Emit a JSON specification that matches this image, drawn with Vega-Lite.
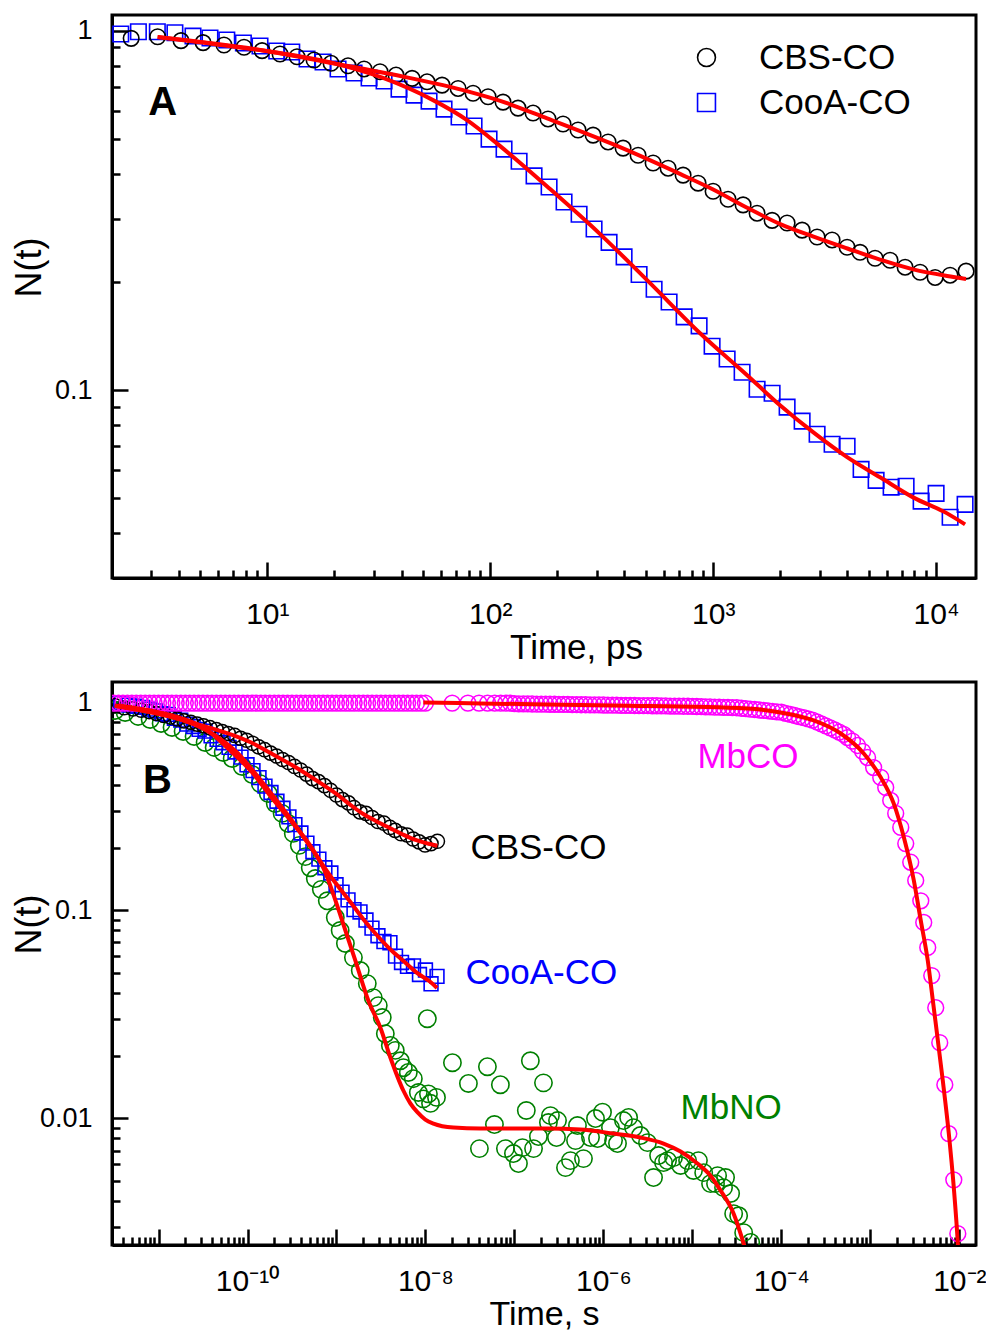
{
  "$schema": "https://vega.github.io/schema/vega-lite/v6.json",
  "background": "white",
  "padding": {"left": 9, "top": 13, "right": 5, "bottom": 2},
  "bounds": "flush",
  "spacing": 104,
  "resolve": {"scale": {"x": "independent", "y": "independent", "color": "independent", "shape": "independent"}},
  "config": {
    "view": {"stroke": "#000000", "strokeWidth": 3},
    "font": "Liberation Sans",
    "axis": {"grid": false, "domainColor": "#000000", "domainWidth": 3, "tickColor": "#000000", "tickWidth": 2.5, "labelColor": "#000000", "titleColor": "#000000", "labelFont": "Liberation Sans", "titleFont": "Liberation Sans", "titleFontWeight": "normal", "labelOverlap": false, "labelFlush": false}
  },
  "datasets": {
    "a_points": [
      {"s":"CooA-CO","t":2.2,"v":0.981},{"s":"CooA-CO","t":2.64,"v":0.995},{"s":"CooA-CO","t":3.21,"v":0.995},{"s":"CooA-CO","t":3.85,"v":0.989},{"s":"CooA-CO","t":4.64,"v":0.968},{"s":"CooA-CO","t":5.53,"v":0.956},{"s":"CooA-CO","t":6.58,"v":0.944},{"s":"CooA-CO","t":7.81,"v":0.926},{"s":"CooA-CO","t":9.27,"v":0.908},{"s":"CooA-CO","t":11.02,"v":0.88},{"s":"CooA-CO","t":12.87,"v":0.874},{"s":"CooA-CO","t":15.07,"v":0.836},{"s":"CooA-CO","t":17.78,"v":0.82},{"s":"CooA-CO","t":20.76,"v":0.784},{"s":"CooA-CO","t":24.49,"v":0.764},{"s":"CooA-CO","t":28.6,"v":0.74},{"s":"CooA-CO","t":33.39,"v":0.726},{"s":"CooA-CO","t":38.97,"v":0.689},{"s":"CooA-CO","t":45.51,"v":0.663},{"s":"CooA-CO","t":53.14,"v":0.638},{"s":"CooA-CO","t":62.04,"v":0.606},{"s":"CooA-CO","t":72.44,"v":0.576},{"s":"CooA-CO","t":84.59,"v":0.544},{"s":"CooA-CO","t":98.76,"v":0.5},{"s":"CooA-CO","t":115.3,"v":0.469},{"s":"CooA-CO","t":134.7,"v":0.434},{"s":"CooA-CO","t":157.2,"v":0.395},{"s":"CooA-CO","t":183.6,"v":0.368},{"s":"CooA-CO","t":214.3,"v":0.334},{"s":"CooA-CO","t":250.3,"v":0.309},{"s":"CooA-CO","t":292.2,"v":0.281},{"s":"CooA-CO","t":341.2,"v":0.258},{"s":"CooA-CO","t":398.4,"v":0.235},{"s":"CooA-CO","t":465.2,"v":0.21},{"s":"CooA-CO","t":543.2,"v":0.191},{"s":"CooA-CO","t":634.2,"v":0.176},{"s":"CooA-CO","t":740.6,"v":0.16},{"s":"CooA-CO","t":864.7,"v":0.151},{"s":"CooA-CO","t":988.8,"v":0.1326},{"s":"CooA-CO","t":1155,"v":0.1221},{"s":"CooA-CO","t":1348,"v":0.1122},{"s":"CooA-CO","t":1574,"v":0.1006},{"s":"CooA-CO","t":1838,"v":0.0981},{"s":"CooA-CO","t":2146,"v":0.0897},{"s":"CooA-CO","t":2506,"v":0.082},{"s":"CooA-CO","t":2925,"v":0.0754},{"s":"CooA-CO","t":3415,"v":0.0707},{"s":"CooA-CO","t":3988,"v":0.0698},{"s":"CooA-CO","t":4608,"v":0.0602},{"s":"CooA-CO","t":5381,"v":0.0561},{"s":"CooA-CO","t":6283,"v":0.0537},{"s":"CooA-CO","t":7335,"v":0.054},{"s":"CooA-CO","t":8565,"v":0.0491},{"s":"CooA-CO","t":10000,"v":0.0516},{"s":"CooA-CO","t":11556,"v":0.0443},{"s":"CooA-CO","t":13490,"v":0.0481},
      {"s":"CBS-CO","t":2.45,"v":0.954},{"s":"CBS-CO","t":3.22,"v":0.964},{"s":"CBS-CO","t":4.1,"v":0.94},{"s":"CBS-CO","t":5.15,"v":0.928},{"s":"CBS-CO","t":6.39,"v":0.914},{"s":"CBS-CO","t":7.86,"v":0.901},{"s":"CBS-CO","t":9.47,"v":0.882},{"s":"CBS-CO","t":11.4,"v":0.863},{"s":"CBS-CO","t":13.59,"v":0.848},{"s":"CBS-CO","t":16.2,"v":0.83},{"s":"CBS-CO","t":19.31,"v":0.813},{"s":"CBS-CO","t":23.01,"v":0.8},{"s":"CBS-CO","t":27.16,"v":0.784},{"s":"CBS-CO","t":32.03,"v":0.77},{"s":"CBS-CO","t":37.79,"v":0.754},{"s":"CBS-CO","t":44.6,"v":0.738},{"s":"CBS-CO","t":52.06,"v":0.722},{"s":"CBS-CO","t":60.78,"v":0.707},{"s":"CBS-CO","t":71.72,"v":0.692},{"s":"CBS-CO","t":83.72,"v":0.671},{"s":"CBS-CO","t":97.74,"v":0.656},{"s":"CBS-CO","t":114.1,"v":0.634},{"s":"CBS-CO","t":133.2,"v":0.61},{"s":"CBS-CO","t":155.6,"v":0.591},{"s":"CBS-CO","t":181.6,"v":0.569},{"s":"CBS-CO","t":212.1,"v":0.551},{"s":"CBS-CO","t":247.6,"v":0.53},{"s":"CBS-CO","t":289.2,"v":0.513},{"s":"CBS-CO","t":337.7,"v":0.491},{"s":"CBS-CO","t":394.3,"v":0.472},{"s":"CBS-CO","t":460.4,"v":0.451},{"s":"CBS-CO","t":537.6,"v":0.429},{"s":"CBS-CO","t":627.8,"v":0.415},{"s":"CBS-CO","t":732.8,"v":0.397},{"s":"CBS-CO","t":855.7,"v":0.377},{"s":"CBS-CO","t":999,"v":0.358},{"s":"CBS-CO","t":1166,"v":0.34},{"s":"CBS-CO","t":1362,"v":0.328},{"s":"CBS-CO","t":1574,"v":0.311},{"s":"CBS-CO","t":1838,"v":0.297},{"s":"CBS-CO","t":2146,"v":0.292},{"s":"CBS-CO","t":2506,"v":0.279},{"s":"CBS-CO","t":2925,"v":0.267},{"s":"CBS-CO","t":3415,"v":0.262},{"s":"CBS-CO","t":3988,"v":0.25},{"s":"CBS-CO","t":4560,"v":0.242},{"s":"CBS-CO","t":5324,"v":0.233},{"s":"CBS-CO","t":6217,"v":0.23},{"s":"CBS-CO","t":7260,"v":0.22},{"s":"CBS-CO","t":8477,"v":0.213},{"s":"CBS-CO","t":9897,"v":0.206},{"s":"CBS-CO","t":11556,"v":0.209},{"s":"CBS-CO","t":13630,"v":0.2145}
    ],
    "a_fits": [
      {"s":"CBS","t":3.22,"v":0.962},{"s":"CBS","t":5,"v":0.93},{"s":"CBS","t":10,"v":0.878},{"s":"CBS","t":20,"v":0.812},{"s":"CBS","t":40,"v":0.748},{"s":"CBS","t":80,"v":0.678},{"s":"CBS","t":110,"v":0.64},{"s":"CBS","t":180,"v":0.571},{"s":"CBS","t":355,"v":0.484},{"s":"CBS","t":710,"v":0.4},{"s":"CBS","t":1000,"v":0.362},{"s":"CBS","t":1420,"v":0.322},{"s":"CBS","t":2000,"v":0.29},{"s":"CBS","t":2800,"v":0.268},{"s":"CBS","t":4000,"v":0.248},{"s":"CBS","t":5600,"v":0.231},{"s":"CBS","t":7900,"v":0.217},{"s":"CBS","t":11200,"v":0.208},{"s":"CBS","t":13630,"v":0.204},
      {"s":"CooA","t":3.22,"v":0.962},{"s":"CooA","t":9.94,"v":0.88},{"s":"CooA","t":19.73,"v":0.814},{"s":"CooA","t":33.04,"v":0.74},{"s":"CooA","t":55.39,"v":0.642},{"s":"CooA","t":78.68,"v":0.565},{"s":"CooA","t":110.8,"v":0.478},{"s":"CooA","t":185.5,"v":0.363},{"s":"CooA","t":310.9,"v":0.272},{"s":"CooA","t":521.2,"v":0.1986},{"s":"CooA","t":873.5,"v":0.1441},{"s":"CooA","t":1420,"v":0.1101},{"s":"CooA","t":1995,"v":0.0908},{"s":"CooA","t":2806,"v":0.0764},{"s":"CooA","t":3988,"v":0.0651},{"s":"CooA","t":5608,"v":0.0572},{"s":"CooA","t":7884,"v":0.0503},{"s":"CooA","t":11204,"v":0.0454},{"s":"CooA","t":13490,"v":0.0423}
    ],
    "a_letter": [{"label":"A","t":2.92,"v":0.583}],
    "b_mbno": [
      {"t":3.25e-12,"v":0.912},{"t":4.21e-12,"v":0.892},{"t":5.89e-12,"v":0.854},{"t":8.05e-12,"v":0.826},{"t":1.07e-11,"v":0.79},{"t":1.42e-11,"v":0.756},{"t":1.89e-11,"v":0.723},{"t":2.51e-11,"v":0.684},{"t":3.34e-11,"v":0.64},{"t":4.22e-11,"v":0.606},{"t":5.33e-11,"v":0.573},{"t":6.73e-11,"v":0.536},{"t":8.71e-11,"v":0.491},{"t":1.13e-10,"v":0.449},{"t":1.39e-10,"v":0.406},{"t":1.71e-10,"v":0.364},{"t":2.05e-10,"v":0.326},{"t":2.45e-10,"v":0.292},{"t":2.87e-10,"v":0.261},{"t":3.27e-10,"v":0.234},{"t":3.82e-10,"v":0.205},{"t":4.46e-10,"v":0.181},{"t":5.07e-10,"v":0.16},{"t":5.78e-10,"v":0.142},{"t":6.75e-10,"v":0.126},{"t":7.88e-10,"v":0.111},{"t":9.7e-10,"v":0.0922},{"t":1.1e-9,"v":0.0799},{"t":1.26e-9,"v":0.0692},{"t":1.55e-9,"v":0.0592},{"t":1.85e-9,"v":0.0513},{"t":2.22e-9,"v":0.0444},{"t":2.59e-9,"v":0.038},{"t":2.95e-9,"v":0.0348},{"t":3.27e-9,"v":0.0305},{"t":3.54e-9,"v":0.0255},{"t":4.03e-9,"v":0.0224},{"t":4.58e-9,"v":0.0212},{"t":5.22e-9,"v":0.0189},{"t":5.64e-9,"v":0.0175},{"t":6.42e-9,"v":0.0166},{"t":7.31e-9,"v":0.0155},{"t":8.32e-9,"v":0.0133},{"t":9.46e-9,"v":0.0124},{"t":1.05e-8,"v":0.0301},{"t":1.08e-8,"v":0.0131},{"t":1.14e-8,"v":0.0118},{"t":1.33e-8,"v":0.0126},
      {"t":2.01e-8,"v":0.0185},{"t":3.04e-8,"v":0.0147},{"t":4.97e-8,"v":0.0177},{"t":6.95e-8,"v":0.0145},{"t":1.51e-7,"v":0.0189},{"t":2.12e-7,"v":0.0148},{"t":1.36e-7,"v":0.0109},{"t":5.96e-8,"v":0.00933},{"t":4.04e-8,"v":0.00715},{"t":7.92e-8,"v":0.00715},{"t":9.75e-8,"v":0.00677},{"t":1.11e-7,"v":0.00606},{"t":1.23e-7,"v":0.00723},{"t":1.64e-7,"v":0.00715},{"t":1.86e-7,"v":0.00817},{"t":2.54e-7,"v":0.0103},{"t":3.05e-7,"v":0.00975},{"t":2.41e-7,"v":0.00954},{"t":2.97e-7,"v":0.00808},{"t":3.75e-7,"v":0.00579},{"t":4.26e-7,"v":0.00626},{"t":5.11e-7,"v":0.00923},{"t":5.97e-7,"v":0.0064},{"t":4.86e-7,"v":0.00781},{"t":7.16e-7,"v":0.00808},{"t":8.15e-7,"v":0.00997},{"t":9.77e-7,"v":0.0107},{"t":8.59e-7,"v":0.00799},{"t":1.2e-6,"v":0.00902},{"t":1.3e-6,"v":0.00781},{"t":1.44e-6,"v":0.00756},{"t":1.68e-6,"v":0.00975},{"t":1.92e-6,"v":0.0101},{"t":2.18e-6,"v":0.00902},{"t":2.61e-6,"v":0.00826},{"t":3.13e-6,"v":0.00764},{"t":3.66e-6,"v":0.00519},{"t":4.17e-6,"v":0.00662},{"t":4.74e-6,"v":0.00612},{"t":5.26e-6,"v":0.00626},{"t":6.14e-6,"v":0.00647},{"t":7.37e-6,"v":0.00593},{"t":8.83e-6,"v":0.00626},{"t":1.03e-5,"v":0.00561},{"t":1.17e-5,"v":0.00626},{"t":1.34e-5,"v":0.00548},{"t":1.6e-5,"v":0.00485},{"t":1.82e-5,"v":0.00485},{"t":1.92e-5,"v":0.0053},{"t":2.36e-5,"v":0.00519},{"t":2.24e-5,"v":0.00464},{"t":2.69e-5,"v":0.00435},{"t":2.91e-5,"v":0.00348},{"t":3.31e-5,"v":0.0034},{"t":3.77e-5,"v":0.00282},{"t":4.52e-5,"v":0.00253}
    ],
    "b_cooa": [
      {"t":2.2e-12,"v":0.981},{"t":2.64e-12,"v":0.995},{"t":3.21e-12,"v":0.995},{"t":3.85e-12,"v":0.989},{"t":4.64e-12,"v":0.968},{"t":5.53e-12,"v":0.956},{"t":6.58e-12,"v":0.944},{"t":7.81e-12,"v":0.926},{"t":9.27e-12,"v":0.908},{"t":11.02e-12,"v":0.88},{"t":12.87e-12,"v":0.874},{"t":15.07e-12,"v":0.836},{"t":17.78e-12,"v":0.82},{"t":20.76e-12,"v":0.784},{"t":24.49e-12,"v":0.764},{"t":28.6e-12,"v":0.74},{"t":33.39e-12,"v":0.726},{"t":38.97e-12,"v":0.689},{"t":45.51e-12,"v":0.663},{"t":53.14e-12,"v":0.638},{"t":62.04e-12,"v":0.606},{"t":72.44e-12,"v":0.576},{"t":84.59e-12,"v":0.544},{"t":98.76e-12,"v":0.5},{"t":115.3e-12,"v":0.469},{"t":134.7e-12,"v":0.434},{"t":157.2e-12,"v":0.395},{"t":183.6e-12,"v":0.368},{"t":214.3e-12,"v":0.334},{"t":250.3e-12,"v":0.309},{"t":292.2e-12,"v":0.281},{"t":341.2e-12,"v":0.258},{"t":398.4e-12,"v":0.235},{"t":465.2e-12,"v":0.21},{"t":543.2e-12,"v":0.191},{"t":634.2e-12,"v":0.176},{"t":740.6e-12,"v":0.16},{"t":864.7e-12,"v":0.151},{"t":988.8e-12,"v":0.1326},{"t":1155e-12,"v":0.1221},{"t":1348e-12,"v":0.1122},{"t":1574e-12,"v":0.1006},{"t":1838e-12,"v":0.0981},{"t":2146e-12,"v":0.0897},{"t":2506e-12,"v":0.082},{"t":2925e-12,"v":0.0754},{"t":3415e-12,"v":0.0707},{"t":3988e-12,"v":0.0698},{"t":4608e-12,"v":0.0602},{"t":5381e-12,"v":0.0561},{"t":6283e-12,"v":0.0537},{"t":7335e-12,"v":0.054},{"t":8565e-12,"v":0.0491},{"t":10000e-12,"v":0.0516},{"t":11556e-12,"v":0.0443},{"t":13490e-12,"v":0.0481}
    ],
    "b_cbs": [
      {"t":2.45e-12,"v":0.954},{"t":3.22e-12,"v":0.964},{"t":4.1e-12,"v":0.94},{"t":5.15e-12,"v":0.928},{"t":6.39e-12,"v":0.914},{"t":7.86e-12,"v":0.901},{"t":9.47e-12,"v":0.882},{"t":11.4e-12,"v":0.863},{"t":13.59e-12,"v":0.848},{"t":16.2e-12,"v":0.83},{"t":19.31e-12,"v":0.813},{"t":23.01e-12,"v":0.8},{"t":27.16e-12,"v":0.784},{"t":32.03e-12,"v":0.77},{"t":37.79e-12,"v":0.754},{"t":44.6e-12,"v":0.738},{"t":52.06e-12,"v":0.722},{"t":60.78e-12,"v":0.707},{"t":71.72e-12,"v":0.692},{"t":83.72e-12,"v":0.671},{"t":97.74e-12,"v":0.656},{"t":114.1e-12,"v":0.634},{"t":133.2e-12,"v":0.61},{"t":155.6e-12,"v":0.591},{"t":181.6e-12,"v":0.569},{"t":212.1e-12,"v":0.551},{"t":247.6e-12,"v":0.53},{"t":289.2e-12,"v":0.513},{"t":337.7e-12,"v":0.491},{"t":394.3e-12,"v":0.472},{"t":460.4e-12,"v":0.451},{"t":537.6e-12,"v":0.429},{"t":627.8e-12,"v":0.415},{"t":732.8e-12,"v":0.397},{"t":855.7e-12,"v":0.377},{"t":999e-12,"v":0.358},{"t":1166e-12,"v":0.34},{"t":1362e-12,"v":0.328},{"t":1574e-12,"v":0.311},{"t":1838e-12,"v":0.297},{"t":2146e-12,"v":0.292},{"t":2506e-12,"v":0.279},{"t":2925e-12,"v":0.267},{"t":3415e-12,"v":0.262},{"t":3988e-12,"v":0.25},{"t":4560e-12,"v":0.242},{"t":5324e-12,"v":0.233},{"t":6217e-12,"v":0.23},{"t":7260e-12,"v":0.22},{"t":8477e-12,"v":0.213},{"t":9897e-12,"v":0.206},{"t":11556e-12,"v":0.209},{"t":13630e-12,"v":0.2145}
    ],
    "b_mbco": [
      {"t":3.16e-12,"v":0.99},{"t":3.55e-12,"v":0.99},{"t":3.98e-12,"v":0.99},{"t":4.47e-12,"v":0.99},{"t":5.01e-12,"v":0.99},{"t":5.62e-12,"v":0.99},{"t":6.31e-12,"v":0.99},{"t":7.08e-12,"v":0.99},{"t":7.94e-12,"v":0.99},{"t":8.91e-12,"v":0.99},
      {"t":1e-11,"v":0.99},{"t":1.12e-11,"v":0.99},{"t":1.26e-11,"v":0.99},{"t":1.41e-11,"v":0.99},{"t":1.58e-11,"v":0.99},{"t":1.78e-11,"v":0.99},{"t":2e-11,"v":0.99},{"t":2.24e-11,"v":0.99},{"t":2.51e-11,"v":0.99},{"t":2.82e-11,"v":0.99},{"t":3.16e-11,"v":0.99},{"t":3.55e-11,"v":0.99},{"t":3.98e-11,"v":0.99},{"t":4.47e-11,"v":0.99},{"t":5.01e-11,"v":0.99},{"t":5.62e-11,"v":0.99},{"t":6.31e-11,"v":0.99},{"t":7.08e-11,"v":0.99},{"t":7.94e-11,"v":0.99},{"t":8.91e-11,"v":0.99},
      {"t":1e-10,"v":0.99},{"t":1.12e-10,"v":0.99},{"t":1.26e-10,"v":0.99},{"t":1.41e-10,"v":0.99},{"t":1.58e-10,"v":0.99},{"t":1.78e-10,"v":0.99},{"t":2e-10,"v":0.99},{"t":2.24e-10,"v":0.99},{"t":2.51e-10,"v":0.99},{"t":2.82e-10,"v":0.99},{"t":3.16e-10,"v":0.99},{"t":3.55e-10,"v":0.99},{"t":3.98e-10,"v":0.99},{"t":4.47e-10,"v":0.99},{"t":5.01e-10,"v":0.99},{"t":5.62e-10,"v":0.99},{"t":6.31e-10,"v":0.99},{"t":7.08e-10,"v":0.99},{"t":7.94e-10,"v":0.99},{"t":8.91e-10,"v":0.99},
      {"t":1e-9,"v":0.99},{"t":1.12e-9,"v":0.99},{"t":1.26e-9,"v":0.99},{"t":1.41e-9,"v":0.99},{"t":1.58e-9,"v":0.99},{"t":1.78e-9,"v":0.99},{"t":2e-9,"v":0.99},{"t":2.24e-9,"v":0.99},{"t":2.51e-9,"v":0.99},{"t":2.82e-9,"v":0.99},{"t":3.16e-9,"v":0.99},{"t":3.55e-9,"v":0.99},{"t":3.98e-9,"v":0.99},{"t":4.47e-9,"v":0.99},{"t":5.01e-9,"v":0.99},{"t":5.62e-9,"v":0.99},{"t":6.31e-9,"v":0.99},{"t":7.08e-9,"v":0.99},{"t":7.94e-9,"v":0.99},{"t":8.91e-9,"v":0.99},
      {"t":1e-8,"v":0.99},{"t":2e-8,"v":0.99},{"t":3e-8,"v":0.99},{"t":4e-8,"v":0.99},{"t":5e-8,"v":0.99},{"t":6e-8,"v":0.99},{"t":7e-8,"v":0.99},{"t":8e-8,"v":0.99},{"t":9e-8,"v":0.99},
      {"t":1e-7,"v":0.983},{"t":1.12e-7,"v":0.982},{"t":1.26e-7,"v":0.982},{"t":1.41e-7,"v":0.981},{"t":1.58e-7,"v":0.98},{"t":1.78e-7,"v":0.979},{"t":2e-7,"v":0.979},{"t":2.24e-7,"v":0.978},{"t":2.51e-7,"v":0.977},{"t":2.82e-7,"v":0.977},{"t":3.16e-7,"v":0.976},{"t":3.55e-7,"v":0.975},{"t":3.98e-7,"v":0.975},{"t":4.47e-7,"v":0.974},{"t":5.01e-7,"v":0.973},{"t":5.62e-7,"v":0.972},{"t":6.31e-7,"v":0.972},{"t":7.08e-7,"v":0.971},{"t":7.94e-7,"v":0.97},{"t":8.91e-7,"v":0.97},
      {"t":1e-6,"v":0.969},{"t":1.12e-6,"v":0.968},{"t":1.26e-6,"v":0.968},{"t":1.41e-6,"v":0.967},{"t":1.58e-6,"v":0.966},{"t":1.78e-6,"v":0.965},{"t":2e-6,"v":0.965},{"t":2.24e-6,"v":0.964},{"t":2.51e-6,"v":0.963},{"t":2.82e-6,"v":0.963},{"t":3.16e-6,"v":0.962},{"t":3.55e-6,"v":0.961},{"t":3.98e-6,"v":0.961},{"t":4.47e-6,"v":0.96},{"t":5.01e-6,"v":0.959},{"t":5.62e-6,"v":0.958},{"t":6.31e-6,"v":0.958},{"t":7.08e-6,"v":0.957},{"t":7.94e-6,"v":0.956},{"t":8.91e-6,"v":0.956},
      {"t":1e-5,"v":0.955},{"t":1.12e-5,"v":0.953},{"t":1.26e-5,"v":0.952},{"t":1.41e-5,"v":0.95},{"t":1.58e-5,"v":0.949},{"t":1.78e-5,"v":0.947},{"t":2e-5,"v":0.946},{"t":2.24e-5,"v":0.944},{"t":2.51e-5,"v":0.943},{"t":2.82e-5,"v":0.941},{"t":3.16e-5,"v":0.94},{"t":3.55e-5,"v":0.935},{"t":3.98e-5,"v":0.931},{"t":4.47e-5,"v":0.926},{"t":5.01e-5,"v":0.922},{"t":5.62e-5,"v":0.917},{"t":6.31e-5,"v":0.913},{"t":7.08e-5,"v":0.908},{"t":7.94e-5,"v":0.904},{"t":8.91e-5,"v":0.899},
      {"t":1e-4,"v":0.895},{"t":1.12e-4,"v":0.884},{"t":1.26e-4,"v":0.874},{"t":1.41e-4,"v":0.863},{"t":1.58e-4,"v":0.852},{"t":1.78e-4,"v":0.842},{"t":2e-4,"v":0.831},{"t":2.24e-4,"v":0.82},{"t":2.51e-4,"v":0.803},{"t":2.82e-4,"v":0.786},{"t":3.16e-4,"v":0.769},{"t":3.55e-4,"v":0.752},{"t":3.98e-4,"v":0.735},{"t":4.47e-4,"v":0.718},{"t":5.01e-4,"v":0.7},
      {"t":5.55e-4,"v":0.676},{"t":6.3e-4,"v":0.65},{"t":7.19e-4,"v":0.619},{"t":8.2e-4,"v":0.58},{"t":9.31e-4,"v":0.542},{"t":1.089e-3,"v":0.485},{"t":1.309e-3,"v":0.435},{"t":1.489e-3,"v":0.389},{"t":1.694e-3,"v":0.337},{"t":1.928e-3,"v":0.292},{"t":2.198e-3,"v":0.25},{"t":2.5e-3,"v":0.209},{"t":2.844e-3,"v":0.17},{"t":3.236e-3,"v":0.139},{"t":3.69e-3,"v":0.111},{"t":3.981e-3,"v":0.0873},{"t":4.416e-3,"v":0.0662},{"t":4.898e-3,"v":0.0485},{"t":5.433e-3,"v":0.034},{"t":6.026e-3,"v":0.0231},{"t":6.871e-3,"v":0.0145},{"t":7.621e-3,"v":0.00843},{"t":8.67e-3,"v":0.00506},{"t":9.616e-3,"v":0.00279}
    ],
    "b_fits": [
      {"s":"CBS","t":3.22e-12,"v":0.962},{"s":"CBS","t":5e-12,"v":0.93},{"s":"CBS","t":10e-12,"v":0.878},{"s":"CBS","t":20e-12,"v":0.812},{"s":"CBS","t":40e-12,"v":0.748},{"s":"CBS","t":80e-12,"v":0.678},{"s":"CBS","t":110e-12,"v":0.64},{"s":"CBS","t":180e-12,"v":0.571},{"s":"CBS","t":355e-12,"v":0.484},{"s":"CBS","t":710e-12,"v":0.4},{"s":"CBS","t":1000e-12,"v":0.362},{"s":"CBS","t":1420e-12,"v":0.322},{"s":"CBS","t":2000e-12,"v":0.29},{"s":"CBS","t":2800e-12,"v":0.268},{"s":"CBS","t":4000e-12,"v":0.248},{"s":"CBS","t":5600e-12,"v":0.231},{"s":"CBS","t":7900e-12,"v":0.217},{"s":"CBS","t":11200e-12,"v":0.208},{"s":"CBS","t":13630e-12,"v":0.204},
      {"s":"CooA","t":3.22e-12,"v":0.962},{"s":"CooA","t":9.94e-12,"v":0.88},{"s":"CooA","t":19.73e-12,"v":0.814},{"s":"CooA","t":33.04e-12,"v":0.74},{"s":"CooA","t":55.39e-12,"v":0.642},{"s":"CooA","t":78.68e-12,"v":0.565},{"s":"CooA","t":110.8e-12,"v":0.478},{"s":"CooA","t":185.5e-12,"v":0.363},{"s":"CooA","t":310.9e-12,"v":0.272},{"s":"CooA","t":521.2e-12,"v":0.1986},{"s":"CooA","t":873.5e-12,"v":0.1441},{"s":"CooA","t":1420e-12,"v":0.1101},{"s":"CooA","t":1995e-12,"v":0.0908},{"s":"CooA","t":2806e-12,"v":0.0764},{"s":"CooA","t":3988e-12,"v":0.0651},{"s":"CooA","t":5608e-12,"v":0.0572},{"s":"CooA","t":7884e-12,"v":0.0503},{"s":"CooA","t":11204e-12,"v":0.0454},{"s":"CooA","t":13490e-12,"v":0.0423},
      {"s":"MbNO","t":3.52e-12,"v":0.964},{"s":"MbNO","t":5.05e-12,"v":0.943},{"s":"MbNO","t":1.42e-11,"v":0.863},{"s":"MbNO","t":3.34e-11,"v":0.747},{"s":"MbNO","t":6.73e-11,"v":0.573},{"s":"MbNO","t":1.13e-10,"v":0.459},{"s":"MbNO","t":1.9e-10,"v":0.344},{"s":"MbNO","t":3.18e-10,"v":0.264},{"s":"MbNO","t":5.34e-10,"v":0.198},{"s":"MbNO","t":6.92e-10,"v":0.164},{"s":"MbNO","t":1.26e-9,"v":0.0799},{"s":"MbNO","t":1.63e-9,"v":0.0573},{"s":"MbNO","t":2.28e-9,"v":0.0368},{"s":"MbNO","t":3.11e-9,"v":0.0273},{"s":"MbNO","t":4.03e-9,"v":0.0196},{"s":"MbNO","t":5.64e-9,"v":0.0136},{"s":"MbNO","t":6.76e-9,"v":0.0118},{"s":"MbNO","t":8.11e-9,"v":0.0107},{"s":"MbNO","t":9.97e-9,"v":0.00986},{"s":"MbNO","t":1.23e-8,"v":0.00943},{"s":"MbNO","t":2.06e-8,"v":0.00902},{"s":"MbNO","t":4.14e-8,"v":0.00892},{"s":"MbNO","t":2.35e-7,"v":0.00892},{"s":"MbNO","t":5.53e-7,"v":0.00883},{"s":"MbNO","t":1.3e-6,"v":0.00844},{"s":"MbNO","t":2.61e-6,"v":0.00808},{"s":"MbNO","t":4.74e-6,"v":0.00756},{"s":"MbNO","t":7.37e-6,"v":0.00692},{"s":"MbNO","t":1.14e-5,"v":0.00606},{"s":"MbNO","t":1.6e-5,"v":0.0053},{"s":"MbNO","t":2.08e-5,"v":0.00449},{"s":"MbNO","t":2.91e-5,"v":0.00348},{"s":"MbNO","t":3.77e-5,"v":0.0025},{"s":"MbNO","t":4.29e-5,"v":0.00207},
      {"s":"MbCO","t":9.46e-9,"v":0.997},{"s":"MbCO","t":4.14e-8,"v":0.986},{"s":"MbCO","t":1.3e-6,"v":0.964},{"s":"MbCO","t":4.18e-5,"v":0.933},{"s":"MbCO","t":9.82e-5,"v":0.892},{"s":"MbCO","t":2.31e-4,"v":0.817},{"s":"MbCO","t":4.65e-4,"v":0.707},{"s":"MbCO","t":8.43e-4,"v":0.567},{"s":"MbCO","t":1.31e-3,"v":0.435},{"s":"MbCO","t":1.83e-3,"v":0.326},{"s":"MbCO","t":2.38e-3,"v":0.224},{"s":"MbCO","t":3.08e-3,"v":0.139},{"s":"MbCO","t":3.69e-3,"v":0.0892},{"s":"MbCO","t":4.42e-3,"v":0.0573},{"s":"MbCO","t":5.04e-3,"v":0.0368},{"s":"MbCO","t":6.52e-3,"v":0.0152},{"s":"MbCO","t":7.62e-3,"v":0.00844},{"s":"MbCO","t":8.67e-3,"v":0.00464},{"s":"MbCO","t":9.62e-3,"v":0.0025},{"s":"MbCO","t":9.9e-3,"v":0.002}
    ],
    "b_labels": [
      {"label":"MbCO","t":1.14e-5,"v":0.48},{"label":"CBS-CO","t":3.2e-8,"v":0.177},{"label":"CooA-CO","t":2.82e-8,"v":0.0444},{"label":"MbNO","t":7.37e-6,"v":0.00997}
    ],
    "b_letter": [{"label":"B","t":6.71e-12,"v":0.364}]
  },
  "vconcat": [
    {
      "width": 864,
      "height": 563,
      "layer": [
        {
          "data": {"name": "a_points"},
          "mark": {"type": "point", "filled": false, "strokeWidth": 1.6, "size": 240, "opacity": 1, "clip": true},
          "encoding": {
            "x": {
              "field": "t", "type": "quantitative",
              "scale": {"type": "log", "domain": [2.01, 15100], "nice": false},
              "axis": {
                "title": "Time, ps", "titleFontSize": 35, "titleX": 464, "titleY": 80, "titleAlign": "center", "titleBaseline": "alphabetic",
                "values": [3,4,5,6,7,8,9,10,20,30,40,50,60,70,80,90,100,200,300,400,500,600,700,800,900,1000,2000,3000,4000,5000,6000,7000,8000,9000,10000],
                "labelExpr": "datum.value == 10 ? '10¹' : datum.value == 100 ? '10²' : datum.value == 1000 ? '10³' : datum.value == 10000 ? '10⁴' : ''",
                "labelFontSize": 30, "labelBaseline": "alphabetic", "labelPadding": 61,
                "tickSize": {"condition": {"test": "datum.value == 10 || datum.value == 100 || datum.value == 1000 || datum.value == 10000", "value": -16}, "value": -8}
              }
            },
            "y": {
              "field": "v", "type": "quantitative",
              "scale": {"type": "log", "domain": [0.03, 1.108], "nice": false},
              "axis": {
                "title": "N(t)", "titleFontSize": 36, "titleX": -72, "titleY": 252, "titleAngle": 270, "titleAlign": "center", "titleBaseline": "alphabetic",
                "values": [0.04,0.05,0.06,0.07,0.08,0.09,0.1,0.2,0.3,0.4,0.5,0.6,0.7,0.8,0.9,1],
                "labelExpr": "datum.value == 0.1 ? '0.1' : datum.value == 1 ? '1' : ''",
                "labelFontSize": 27, "labelPadding": 36,
                "tickSize": {"condition": {"test": "datum.value == 0.1 || datum.value == 1", "value": -16}, "value": -8}
              }
            },
            "color": {
              "field": "s", "type": "nominal",
              "scale": {"domain": ["CBS-CO", "CooA-CO"], "range": ["#000000", "#0000ff"]},
              "legend": {"orient": "none", "legendX": 577, "legendY": 25, "title": null, "direction": "vertical", "padding": 0, "labelFont": "Liberation Sans", "labelFontSize": 35, "labelOffset": 35, "rowPadding": 9, "symbolSize": 320, "symbolStrokeWidth": 1.6, "labelLimit": 300,
                "encode": {"labels": {"update": {"fill": {"signal": "datum.label == 'CooA-CO' ? '#0000ff' : '#000000'"}}}}}
            },
            "shape": {
              "field": "s", "type": "nominal",
              "scale": {"domain": ["CBS-CO", "CooA-CO"], "range": ["circle", "square"]},
              "legend": {"orient": "none", "legendX": 577, "legendY": 25, "title": null, "direction": "vertical", "padding": 0, "labelFont": "Liberation Sans", "labelFontSize": 35, "labelOffset": 35, "rowPadding": 9, "symbolSize": 320, "symbolStrokeWidth": 1.6, "labelLimit": 300,
                "encode": {"labels": {"update": {"fill": {"signal": "datum.label == 'CooA-CO' ? '#0000ff' : '#000000'"}}}}}
            }
          }
        },
        {
          "data": {"name": "a_fits"},
          "mark": {"type": "line", "color": "#ff0000", "strokeWidth": 4, "interpolate": "monotone", "clip": true},
          "encoding": {
            "x": {"field": "t", "type": "quantitative", "scale": {"type": "log", "domain": [2.01, 15100], "nice": false}},
            "y": {"field": "v", "type": "quantitative", "scale": {"type": "log", "domain": [0.03, 1.108], "nice": false}},
            "detail": {"field": "s", "type": "nominal"}
          }
        },
        {
          "data": {"name": "a_letter"},
          "mark": {"type": "text", "align": "left", "baseline": "alphabetic", "font": "Liberation Sans", "fontSize": 40, "fontWeight": "bold", "color": "#000000"},
          "encoding": {
            "x": {"field": "t", "type": "quantitative", "scale": {"type": "log", "domain": [2.01, 15100], "nice": false}},
            "y": {"field": "v", "type": "quantitative", "scale": {"type": "log", "domain": [0.03, 1.108], "nice": false}},
            "text": {"field": "label", "type": "nominal"}
          }
        }
      ]
    },
    {
      "width": 864,
      "height": 563,
      "layer": [
        {
          "data": {"name": "b_mbno"},
          "mark": {"type": "point", "shape": "circle", "filled": false, "strokeWidth": 1.6, "size": 300, "opacity": 1, "color": "#008000", "clip": true},
          "encoding": {
            "x": {
              "field": "t", "type": "quantitative",
              "scale": {"type": "log", "domain": [3.0e-12, 0.0154], "nice": false},
              "axis": {
                "title": "Time, s", "titleFontSize": 34, "titleY": 79, "titleAlign": "center", "titleBaseline": "alphabetic",
                "values": [3e-12,4e-12,5e-12,6e-12,7e-12,8e-12,9e-12,1e-11,2e-11,3e-11,4e-11,5e-11,6e-11,7e-11,8e-11,9e-11,1e-10,2e-10,3e-10,4e-10,5e-10,6e-10,7e-10,8e-10,9e-10,1e-9,2e-9,3e-9,4e-9,5e-9,6e-9,7e-9,8e-9,9e-9,1e-8,2e-8,3e-8,4e-8,5e-8,6e-8,7e-8,8e-8,9e-8,1e-7,2e-7,3e-7,4e-7,5e-7,6e-7,7e-7,8e-7,9e-7,1e-6,2e-6,3e-6,4e-6,5e-6,6e-6,7e-6,8e-6,9e-6,1e-5,2e-5,3e-5,4e-5,5e-5,6e-5,7e-5,8e-5,9e-5,1e-4,2e-4,3e-4,4e-4,5e-4,6e-4,7e-4,8e-4,9e-4,1e-3,2e-3,3e-3,4e-3,5e-3,6e-3,7e-3,8e-3,9e-3,1e-2],
                "labelExpr": "datum.value == 1e-10 ? '10⁻¹⁰' : datum.value == 1e-8 ? '10⁻⁸' : datum.value == 1e-6 ? '10⁻⁶' : datum.value == 1e-4 ? '10⁻⁴' : datum.value == 1e-2 ? '10⁻²' : ''",
                "labelFontSize": 30, "labelBaseline": "alphabetic", "labelPadding": 61,
                "tickSize": {"condition": {"test": "indexof([1e-11,1e-10,1e-9,1e-8,1e-7,1e-6,1e-5,1e-4,1e-3,1e-2], datum.value) >= 0", "value": -16}, "value": -8}
              }
            },
            "y": {
              "field": "v", "type": "quantitative",
              "scale": {"type": "log", "domain": [0.00246, 1.25], "nice": false},
              "axis": {
                "title": "N(t)", "titleFontSize": 36, "titleX": -72, "titleY": 242, "titleAngle": 270, "titleAlign": "center", "titleBaseline": "alphabetic",
                "values": [0.003,0.004,0.005,0.006,0.007,0.008,0.009,0.01,0.02,0.03,0.04,0.05,0.06,0.07,0.08,0.09,0.1,0.2,0.3,0.4,0.5,0.6,0.7,0.8,0.9,1],
                "labelExpr": "datum.value == 0.01 ? '0.01' : datum.value == 0.1 ? '0.1' : datum.value == 1 ? '1' : ''",
                "labelFontSize": 27, "labelPadding": 36,
                "tickSize": {"condition": {"test": "datum.value == 0.01 || datum.value == 0.1 || datum.value == 1", "value": -16}, "value": -8}
              }
            }
          }
        },
        {
          "data": {"name": "b_cooa"},
          "mark": {"type": "point", "shape": "square", "filled": false, "strokeWidth": 1.6, "size": 190, "opacity": 1, "color": "#0000ff", "clip": true},
          "encoding": {
            "x": {"field": "t", "type": "quantitative", "scale": {"type": "log", "domain": [3.0e-12, 0.0154], "nice": false}},
            "y": {"field": "v", "type": "quantitative", "scale": {"type": "log", "domain": [0.00246, 1.25], "nice": false}}
          }
        },
        {
          "data": {"name": "b_cbs"},
          "mark": {"type": "point", "shape": "circle", "filled": false, "strokeWidth": 1.5, "size": 200, "opacity": 1, "color": "#000000", "clip": true},
          "encoding": {
            "x": {"field": "t", "type": "quantitative", "scale": {"type": "log", "domain": [3.0e-12, 0.0154], "nice": false}},
            "y": {"field": "v", "type": "quantitative", "scale": {"type": "log", "domain": [0.00246, 1.25], "nice": false}}
          }
        },
        {
          "data": {"name": "b_mbco"},
          "mark": {"type": "point", "shape": "circle", "filled": false, "strokeWidth": 1.5, "size": 250, "opacity": 1, "color": "#ff00ff", "clip": true},
          "encoding": {
            "x": {"field": "t", "type": "quantitative", "scale": {"type": "log", "domain": [3.0e-12, 0.0154], "nice": false}},
            "y": {"field": "v", "type": "quantitative", "scale": {"type": "log", "domain": [0.00246, 1.25], "nice": false}}
          }
        },
        {
          "data": {"name": "b_fits"},
          "mark": {"type": "line", "color": "#ff0000", "strokeWidth": 4, "interpolate": "monotone", "clip": true},
          "encoding": {
            "x": {"field": "t", "type": "quantitative", "scale": {"type": "log", "domain": [3.0e-12, 0.0154], "nice": false}},
            "y": {"field": "v", "type": "quantitative", "scale": {"type": "log", "domain": [0.00246, 1.25], "nice": false}},
            "detail": {"field": "s", "type": "nominal"}
          }
        },
        {
          "data": {"name": "b_labels"},
          "mark": {"type": "text", "align": "left", "baseline": "alphabetic", "font": "Liberation Sans", "fontSize": 35},
          "encoding": {
            "x": {"field": "t", "type": "quantitative", "scale": {"type": "log", "domain": [3.0e-12, 0.0154], "nice": false}},
            "y": {"field": "v", "type": "quantitative", "scale": {"type": "log", "domain": [0.00246, 1.25], "nice": false}},
            "text": {"field": "label", "type": "nominal"},
            "color": {"field": "label", "type": "nominal", "scale": {"domain": ["MbCO", "CBS-CO", "CooA-CO", "MbNO"], "range": ["#ff00ff", "#000000", "#0000ff", "#008000"]}, "legend": null}
          }
        },
        {
          "data": {"name": "b_letter"},
          "mark": {"type": "text", "align": "left", "baseline": "alphabetic", "font": "Liberation Sans", "fontSize": 40, "fontWeight": "bold", "color": "#000000"},
          "encoding": {
            "x": {"field": "t", "type": "quantitative", "scale": {"type": "log", "domain": [3.0e-12, 0.0154], "nice": false}},
            "y": {"field": "v", "type": "quantitative", "scale": {"type": "log", "domain": [0.00246, 1.25], "nice": false}},
            "text": {"field": "label", "type": "nominal"}
          }
        }
      ]
    }
  ]
}
